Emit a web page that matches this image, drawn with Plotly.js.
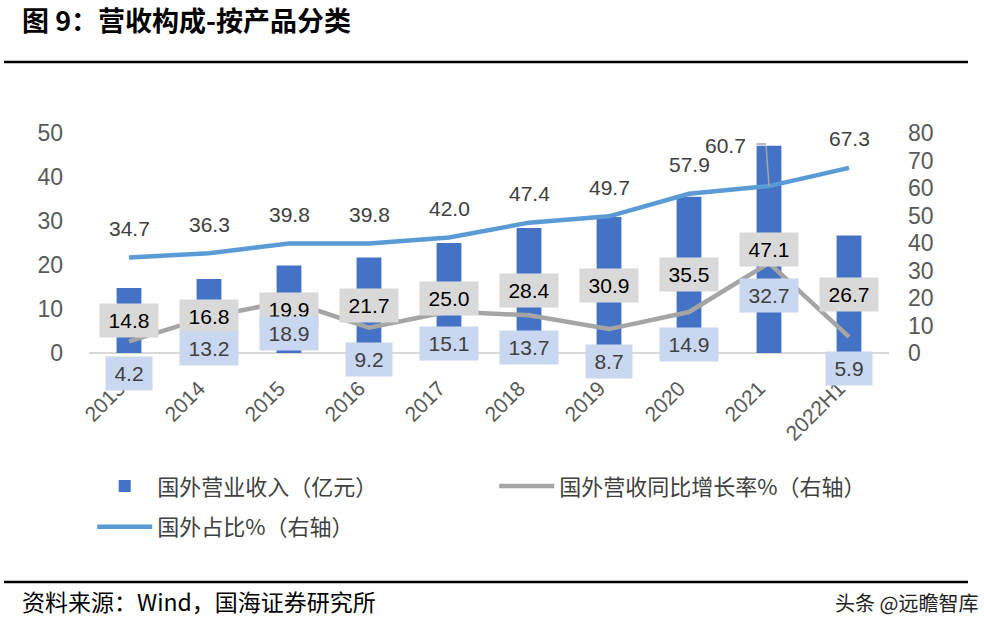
<!DOCTYPE html>
<html>
<head>
<meta charset="utf-8">
<script src="https://cdn.plot.ly/plotly-3.0.1.min.js"></script>
<style>html,body{margin:0;padding:0;background:#fff;}#chart{width:984px;height:638px;}</style>
</head>
<body>
<div id="chart"></div>
<script>
// ---- data ----
var categories = ['2013','2014','2015','2016','2017','2018','2019','2020','2021','2022H1'];
var revenue = [14.8, 16.8, 19.9, 21.7, 25.0, 28.4, 30.9, 35.5, 47.1, 26.7];      // 国外营业收入（亿元）
var growth = [4.2, 13.2, 18.9, 9.2, 15.1, 13.7, 8.7, 14.9, 32.7, 5.9];           // 国外营收同比增长率%
var share = [34.7, 36.3, 39.8, 39.8, 42.0, 47.4, 49.7, 57.9, 60.7, 67.3];        // 国外占比%
var seriesNames = ['国外营业收入（亿元）', '国外营收同比增长率%（右轴）', '国外占比%（右轴）'];

var LATIN = 'Liberation Sans, Arial, sans-serif';
var CJK = 'Noto Sans CJK SC, sans-serif';

var traces = [
  {type:'bar', name:seriesNames[0], x:categories, y:revenue, yaxis:'y',
   marker:{color:'#4472c4'}, width:0.31, legend:'legend', hoverinfo:'skip'},
  {type:'scatter', mode:'lines', name:seriesNames[1], x:categories, y:growth, yaxis:'y2',
   line:{color:'#a5a5a5', width:4.5}, legend:'legend', hoverinfo:'skip'},
  {type:'scatter', mode:'lines', name:seriesNames[2], x:categories, y:share, yaxis:'y2',
   line:{color:'#5b9bd5', width:4.5}, legend:'legend2', hoverinfo:'skip'}
];

function fmt(v){ return v.toFixed(1); }
function boxW(s){ return 12 * s.length + 10; }

var annotations = [];
categories.forEach(function(c, i){
  // category axis: annotations positioned by category index
  var t1 = fmt(revenue[i]);
  annotations.push({x:i, xref:'x', y:revenue[i]/2, yref:'y', text:t1, showarrow:false,
    font:{family:LATIN, size:21, color:'#000000'}, bgcolor:'#d9d9d9',
    width:boxW(t1), height:33, borderpad:0});
  var t2 = fmt(growth[i]);
  annotations.push({x:i, xref:'x', y:growth[i], yref:'y2', yshift:-32, text:t2, showarrow:false,
    font:{family:LATIN, size:21, color:'#404040'}, bgcolor:'#c9d7f0',
    width:boxW(t2), height:33, borderpad:0});
  var t3 = fmt(share[i]);
  if (c === '2021') {
    // label moved up-left with an elbow leader line
    annotations.push({x:i, xref:'x', y:share[i], yref:'y2', xshift:-44, yshift:41, text:t3,
      showarrow:false, font:{family:LATIN, size:21, color:'#404040'}});
    annotations.push({x:i, xref:'x', y:share[i], yref:'y2', text:' ', showarrow:true,
      arrowhead:0, arrowwidth:1.5, arrowcolor:'#a6a6a6', ax:-3, ay:-42, standoff:0,
      font:{size:1}});
    annotations.push({x:i, xref:'x', y:share[i], yref:'y2', xshift:-3, yshift:42, text:' ',
      showarrow:true, arrowhead:0, arrowwidth:1.5, arrowcolor:'#a6a6a6', ax:-11, ay:0, standoff:0,
      font:{size:1}});
  } else {
    annotations.push({x:i, xref:'x', y:share[i], yref:'y2', yshift:29, text:t3, showarrow:false,
      font:{family:LATIN, size:21, color:'#404040'}});
  }
});

// source & watermark
annotations.push({xref:'paper', yref:'paper', x:-0.08625, y:-1.127, xanchor:'left', yanchor:'middle',
  text:'资料来源：Wind，国海证券研究所', showarrow:false, font:{family:CJK, size:23, color:'#000'}});
annotations.push({xref:'paper', yref:'paper', x:1.11375, y:-1.136, xanchor:'right', yanchor:'middle',
  text:'头条 @远瞻智库', showarrow:false, font:{family:CJK, size:20, color:'#222'}});

var layout = {
  width:984, height:638,
  margin:{l:89, r:95, t:133, b:285},
  paper_bgcolor:'#ffffff', plot_bgcolor:'#ffffff',
  title:{text:'<b>图 9：营收构成-按产品分类</b>', xref:'container', yref:'container',
    x:22/984, xanchor:'left', y:1-22/638, yanchor:'middle',
    font:{family:CJK, size:27, color:'#000'}},
  showlegend:true,
  xaxis:{type:'category', range:[-0.5, 9.5], tickangle:-45, showline:false, ticks:'',
    showgrid:false, zeroline:false, tickfont:{family:LATIN, size:21, color:'#595959'},
    ticklabelstandoff:18, ticklabelshift:-10},
  yaxis:{range:[0,50], dtick:10, showgrid:false, zeroline:true, zerolinecolor:'#d9d9d9',
    zerolinewidth:1.5, showline:false, ticks:'', tickfont:{family:LATIN, size:23, color:'#595959'},
    ticklabelstandoff:25},
  yaxis2:{range:[0,80], dtick:10, overlaying:'y', side:'right', showgrid:false, zeroline:false,
    showline:false, ticks:'', tickfont:{family:LATIN, size:23, color:'#595959'},
    ticklabelstandoff:18},
  legend:{orientation:'h', x:0.004, xanchor:'left', y:-0.51, yanchor:'top', itemwidth:55,
    entrywidth:332, font:{family:CJK, size:22, color:'#404040'}, bgcolor:'rgba(0,0,0,0)',
    traceorder:'normal'},
  legend2:{orientation:'h', x:0.004, xanchor:'left', y:-0.695, yanchor:'top', itemwidth:55,
    font:{family:CJK, size:22, color:'#404040'}, bgcolor:'rgba(0,0,0,0)'},
  shapes:[
    {type:'line', xref:'paper', yref:'paper', x0:-0.10625, x1:1.09875, y0:1.3227, y1:1.3227,
     line:{color:'#000', width:2.5}},
    {type:'line', xref:'paper', yref:'paper', x0:-0.10625, x1:1.09875, y0:-1.0409, y1:-1.0409,
     line:{color:'#000', width:2.5}}
  ],
  annotations:annotations
};

Plotly.newPlot('chart', traces, layout, {staticPlot:true, displayModeBar:false});
</script>
</body>
</html>
